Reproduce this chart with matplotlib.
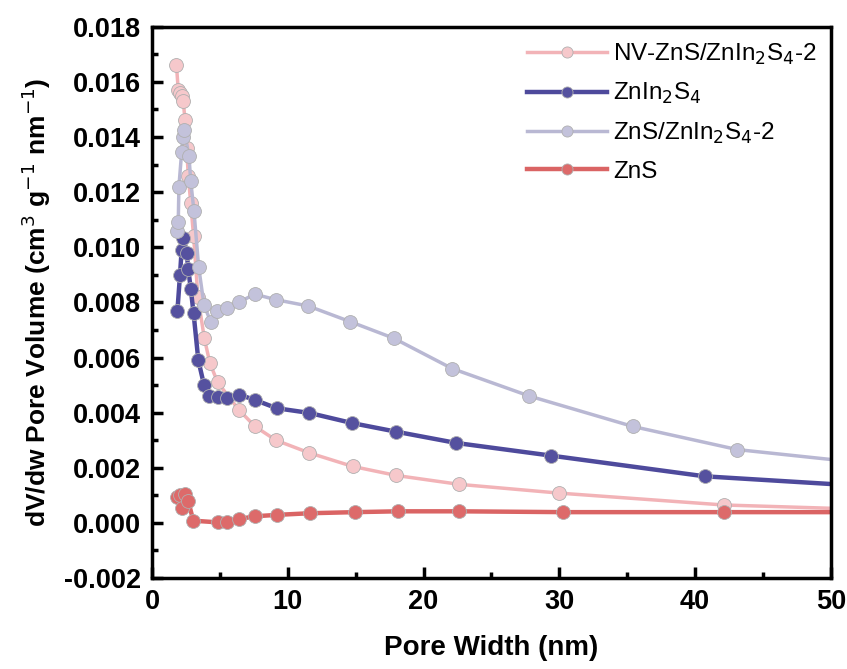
import matplotlib
matplotlib.use("Agg")
import matplotlib.pyplot as plt
from matplotlib.ticker import MultipleLocator

plt.rcParams['font.family'] = ['Liberation Sans', 'DejaVu Sans']

# NV-ZnS/ZnIn2S4-2
nv_x = [1.8, 1.93, 2.05, 2.18, 2.3, 2.43, 2.55, 2.67, 2.85, 3.06, 3.38, 3.85, 4.26, 4.83,
        6.4, 7.58, 9.12, 11.58, 14.77, 18.0, 22.6, 30.0, 42.1, 50.0]
nv_y = [0.0166, 0.0157, 0.0156, 0.0155, 0.0153, 0.0146, 0.0136, 0.0126, 0.0116, 0.0104,
        0.0082, 0.0067, 0.0058, 0.0051, 0.0041, 0.0035, 0.0030, 0.00254, 0.00205, 0.00172,
        0.0014, 0.00108, 0.00065, 0.00053]

# ZnIn2S4
zis_x = [1.87, 2.06, 2.18, 2.3, 2.55, 2.67, 2.85, 3.06, 3.41, 3.83, 4.22, 4.88, 5.55, 6.43,
         7.58, 9.18, 11.58, 14.75, 17.97, 22.4, 29.4, 40.7, 50.0]
zis_y = [0.0077, 0.0090, 0.0099, 0.01035, 0.0098, 0.0092, 0.0085, 0.0076, 0.0059, 0.0050,
         0.0046, 0.00455, 0.00453, 0.00465, 0.00446, 0.00416, 0.00399, 0.00362, 0.00331,
         0.0029, 0.00244, 0.00169, 0.00141]

# ZnS/ZnIn2S4-2
zs_x = [1.82, 1.93, 1.98, 2.18, 2.26, 2.38, 2.72, 2.85, 3.09, 3.43, 3.83, 4.32, 4.8, 5.54,
        6.4, 7.55, 9.1, 11.5, 14.6, 17.8, 22.1, 27.8, 35.4, 43.1, 50.0]
zs_y = [0.01058, 0.0109, 0.0122, 0.01345, 0.0140, 0.01425, 0.0133, 0.0124, 0.0113, 0.0093,
        0.0079, 0.0073, 0.0077, 0.0078, 0.0080, 0.0083, 0.0081, 0.00787, 0.0073, 0.0067,
        0.0056, 0.0046, 0.0035, 0.00266, 0.0023]

# ZnS
zns_x = [1.82, 2.06, 2.18, 2.43, 2.67, 3.04, 4.83, 5.54, 6.42, 7.58, 9.17, 11.6, 14.95,
         18.1, 22.6, 30.3, 42.1, 50.0]
zns_y = [0.00095, 0.00103, 0.00055, 0.00106, 0.00078, 0.00008, 0.00002, 0.00003, 0.00014,
         0.00024, 0.00029, 0.00035, 0.00039, 0.00042, 0.00042, 0.00039, 0.00039, 0.00039]

series = [
    (nv_x, nv_y, r'NV-ZnS/ZnIn$_2$S$_4$-2', '#F2B3B7', '#F6C8CB', 2.5),
    (zis_x, zis_y, r'ZnIn$_2$S$_4$', '#4E4A9C', '#55519F', 3.2),
    (zs_x, zs_y, r'ZnS/ZnIn$_2$S$_4$-2', '#B9B8D3', '#C3C2DB', 2.5),
    (zns_x, zns_y, 'ZnS', '#DA6464', '#DD6A6A', 3.2),
]

fig = plt.figure(figsize=(8.47, 6.69), dpi=100)
ax = fig.add_axes([0.1795, 0.136, 0.8015, 0.824])

for x, y, lab, lc, fc, lw in series:
    ax.plot(x, y, '-o', color=lc, lw=lw, ms=10, mfc=fc, mec='#B0B0B0', mew=0.6,
            markevery=slice(0, len(x) - 1), label=lab)

ax.set_xlim(0, 50)
ax.set_ylim(-0.002, 0.018)
ax.xaxis.set_major_locator(MultipleLocator(10))
ax.xaxis.set_minor_locator(MultipleLocator(5))
ax.yaxis.set_major_locator(MultipleLocator(0.002))
ax.yaxis.set_minor_locator(MultipleLocator(0.001))
ax.yaxis.set_major_formatter(matplotlib.ticker.FormatStrFormatter('%.3f'))

ax.tick_params(which='both', direction='in', width=2.5, top=False, right=False)
ax.tick_params(which='major', length=8, labelsize=19.5, pad=8)
ax.tick_params(which='minor', length=4)
for lbl in ax.get_xticklabels() + ax.get_yticklabels():
    lbl.set_fontweight('bold')
for sp in ax.spines.values():
    sp.set_linewidth(2.5)

ax.set_xlabel('Pore Width (nm)', fontsize=20, fontweight='bold', labelpad=14)
ax.set_ylabel(r'dV/dw Pore Volume (cm$^3$ g$^{-1}$ nm$^{-1}$)', fontsize=19,
              fontweight='bold', labelpad=8)

leg = ax.legend(loc='upper right', frameon=False, fontsize=17.5, handlelength=3.3,
                markerscale=0.8, borderaxespad=0.2, labelspacing=0.6, handletextpad=0.25)

plt.savefig('out.png', dpi=100)
